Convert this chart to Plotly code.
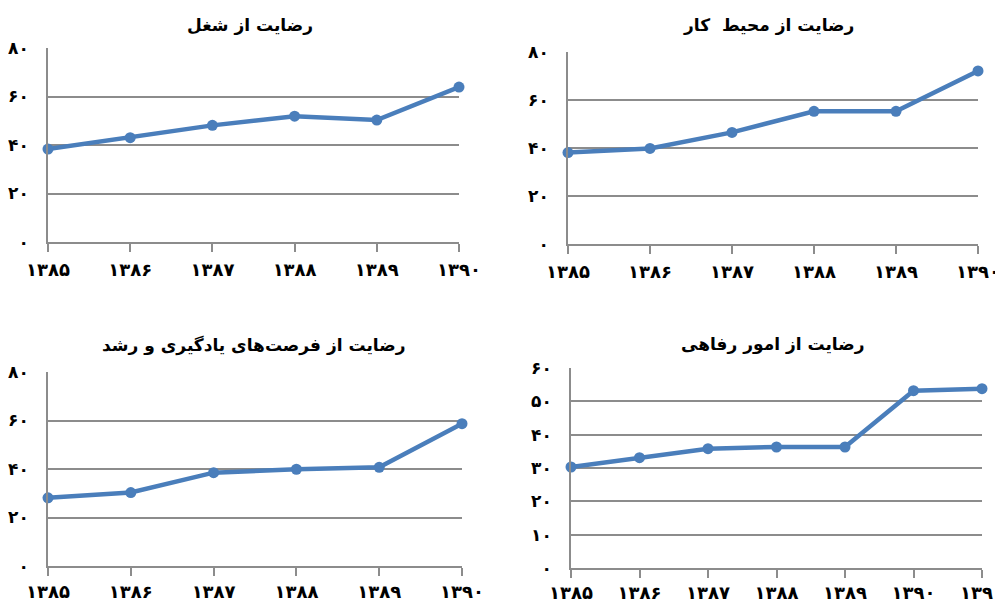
import plotly.graph_objects as go

# ---- data ----
years6 = ["۱۳۸۵", "۱۳۸۶", "۱۳۸۷", "۱۳۸۸", "۱۳۸۹", "۱۳۹۰"]
years7 = ["۱۳۸۵", "۱۳۸۶", "۱۳۸۷", "۱۳۸۸", "۱۳۸۹", "۱۳۹۰", "۱۳۹۱"]

job_vals = [38.3, 43.0, 48.1, 51.9, 50.3, 63.9]
env_vals = [38.1, 39.8, 46.5, 55.3, 55.3, 72.1]
learn_vals = [28.1, 30.3, 38.5, 39.9, 40.7, 58.7]
welfare_vals = [30.3, 33.1, 35.8, 36.3, 36.3, 53.2, 53.8]

titles = ["رضایت از شغل", "رضایت از محیط  کار",
          "رضایت از فرصت\u200cهای یادگیری و رشد", "رضایت از امور رفاهی"]

y80_vals = [0, 20, 40, 60, 80]
y80_text = ["۰", "۲۰", "۴۰", "۶۰", "۸۰"]
y60_vals = [0, 10, 20, 30, 40, 50, 60]
y60_text = ["۰", "۱۰", "۲۰", "۳۰", "۴۰", "۵۰", "۶۰"]

W, H = 1003, 604
OFF = 8  # page body margin offset
LINE = "#4a7ebb"
GRID = "#8c8c8c"
FONT = "DejaVu Sans"

# panel pixel boxes on screen: (x0, x1, ytop, ybottom)
panels = [
    dict(box=(48, 459, 48, 242), cats=years6, vals=job_vals, yv=y80_vals, yt=y80_text, ymax=80, title=titles[0], tpos=(250, 25), so=3),
    dict(box=(568, 978, 52, 244), cats=years6, vals=env_vals, yv=y80_vals, yt=y80_text, ymax=80, title=titles[1], tpos=(768, 25), so=3),
    dict(box=(48, 462, 372, 566), cats=years6, vals=learn_vals, yv=y80_vals, yt=y80_text, ymax=80, title=titles[2], tpos=(253, 345), so=1),
    dict(box=(571, 982, 368, 568), cats=years7, vals=welfare_vals, yv=y60_vals, yt=y60_text, ymax=60, title=titles[3], tpos=(772, 344), so=0),
]


def fx(px):
    return (px - OFF) / W


def fy(px):
    return 1 - (px - OFF) / H


fig = go.Figure()
annotations = []
for i, p in enumerate(panels, start=1):
    x0, x1, yt, yb = p["box"]
    xa = "x" if i == 1 else f"x{i}"
    ya = "y" if i == 1 else f"y{i}"
    n = len(p["cats"])
    fig.add_trace(go.Scatter(
        x=list(range(n)), y=p["vals"], mode="lines+markers",
        line=dict(color=LINE, width=4.5), marker=dict(color=LINE, size=11),
        cliponaxis=False, xaxis=xa, yaxis=ya, showlegend=False,
    ))
    xkey = "xaxis" if i == 1 else f"xaxis{i}"
    ykey = "yaxis" if i == 1 else f"yaxis{i}"
    fig.layout[xkey] = dict(
        domain=[fx(x0), fx(x1)], anchor=ya, range=[0, n - 1],
        tickvals=list(range(n)), ticktext=p["cats"], automargin=False,
        showgrid=False, zeroline=False, showline=True, linecolor=GRID, linewidth=1.5,
        ticks="outside", ticklen=8, tickcolor=GRID, tickwidth=1.5,
        ticklabelstandoff=p["so"],
        tickfont=dict(family=FONT, size=18, color="#000000", weight="bold"),
        fixedrange=True,
    )
    fig.layout[ykey] = dict(
        domain=[fy(yb), fy(yt)], anchor=xa, range=[0, p["ymax"]],
        tickvals=p["yv"], ticktext=p["yt"], automargin=False,
        showgrid=True, gridcolor=GRID, gridwidth=1.5, zeroline=False,
        showline=True, linecolor=GRID, linewidth=1.5, ticks="",
        ticklabelstandoff=14,
        tickfont=dict(family=FONT, size=17, color="#000000", weight="bold"),
        fixedrange=True,
    )
    annotations.append(dict(
        text=p["title"], x=fx(p["tpos"][0]), y=fy(p["tpos"][1]),
        xref="paper", yref="paper", xanchor="center", yanchor="middle",
        showarrow=False, font=dict(family=FONT, size=17, color="#000000", weight="bold"),
    ))

fig.update_layout(
    width=W, height=H, margin=dict(l=0, r=0, t=0, b=0, autoexpand=False),
    paper_bgcolor="white", plot_bgcolor="white",
    annotations=annotations,
)

fig.write_html("out.html")
